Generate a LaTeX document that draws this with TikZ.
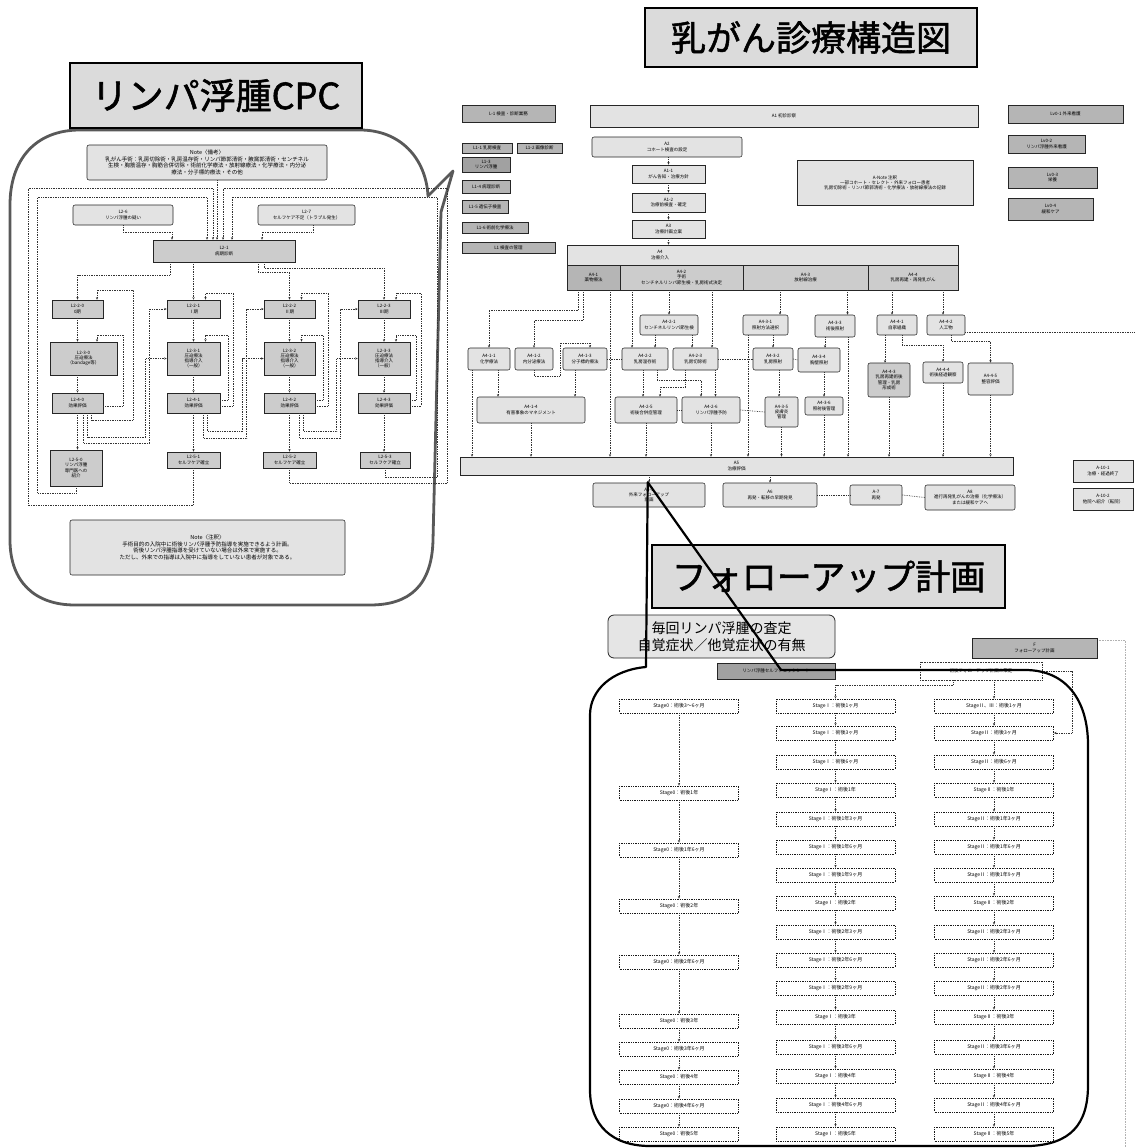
\documentclass[tikz,border=0pt]{standalone}
\usepackage{fontspec}
\setmainfont{Noto Sans CJK JP}
\newfontfamily\ttlfont[RawFeature={embolden=1.5}]{Noto Sans CJK JP}
\usetikzlibrary{arrows.meta,calc}
\newcommand\fsz[2]{\fontsize{#1}{#2}\selectfont}
\newcommand\bxn[7][]{\node[#1,minimum width={#5-#3},minimum height={#6-#4}] (#2) at ({(#3+#5)/2},{(#4+#6)/2}) {#7};}
\tikzset{
 every node/.style={font=\fsz{4.5}{5.2},align=center,inner sep=0.5pt},
 bx/.style={draw=black!85,line width=0.55pt,fill=gray!25},
 lt/.style={bx,fill=gray!22},
 md/.style={bx,fill=gray!40},
 dk/.style={bx,fill=gray!58},
 dkk/.style={bx,fill=gray!74},
 rb/.style={rounded corners=2pt},
 cn/.style={draw=black!80,line width=0.7pt,densely dotted},
 ar/.style={cn,-{Stealth[length=2.6pt,width=2.2pt]}},
 stg/.style={draw=black!90,line width=0.75pt,densely dotted,fill=white,minimum width=119,minimum height=14,font=\fsz{5}{6}},
 ttl/.style={draw=black,line width=1.5pt,fill=gray!28},
 cnote/.style={bx,fill=gray!22,font=\fsz{5.5}{6.5}},
}
\begin{document}
\begin{tikzpicture}[x=1pt,y=-1pt]
\useasboundingbox (0,0) rectangle (1135,1148);
\fill[white] (0,0) rectangle (1135,1148);

% ================= CPC bubble =================
\draw[draw=black!65,line width=2.8pt,line join=round] (80,130) -- (360,130) .. controls (400,130) and (426,158) .. (428,196) -- (453,171) -- (441,212) -- (433,540) .. controls (432,585) and (410,605) .. (370,605) -- (75,605) .. controls (35,605) and (10,582) .. (10,540) -- (10,205) .. controls (10,160) and (35,130) .. (80,130) -- cycle;
\bxn[ttl,font=\ttlfont\fsz{36}{40}]{tcpc}{70}{63}{362}{128}{リンパ浮腫CPC}

\bxn[cnote,rb]{cn1}{87}{145}{327}{180}{Note〈備考〉\\乳がん手術：乳房切除術・乳房温存術・リンパ節郭清術・腋窩郭清術・センチネル\\生検・胸筋温存・胸筋合併切除・術前化学療法・放射線療法・化学療法・内分泌\\療法・分子標的療法・その他}
\bxn[lt,rb]{l26}{73}{205}{173}{225}{L2-6\\リンパ浮腫の疑い}
\bxn[lt,rb]{l27}{258}{205}{355}{225}{L2-7\\セルフケア不足（トラブル発生）}
\bxn[md]{l21}{153}{240}{295}{262}{L2-1\\病期診断}
\bxn[md]{s0}{52}{300}{103}{318}{L2-2-0\\0期}
\bxn[md]{s1}{167}{300}{220}{318}{L2-2-1\\Ⅰ期}
\bxn[md]{s2}{264}{300}{315}{318}{L2-2-2\\Ⅱ期}
\bxn[md]{s3}{358}{300}{410}{318}{L2-2-3\\Ⅲ期}
\bxn[md]{t0}{50}{342}{117}{375}{L2-3-0\\圧迫療法\\（bandage等）}
\bxn[md]{t1}{167}{342}{220}{375}{L2-3-1\\圧迫療法\\指導介入\\（一般）}
\bxn[md]{t2}{264}{342}{315}{375}{L2-3-2\\圧迫療法\\指導介入\\（一般）}
\bxn[md]{t3}{358}{342}{410}{375}{L2-3-3\\圧迫療法\\指導介入\\（一般）}
\bxn[md]{e0}{52}{393}{103}{413}{L2-4-0\\効果評価}
\bxn[md]{e1}{167}{393}{220}{413}{L2-4-1\\効果評価}
\bxn[md]{e2}{264}{393}{315}{413}{L2-4-2\\効果評価}
\bxn[md]{e3}{358}{393}{410}{413}{L2-4-3\\効果評価}
\bxn[md]{r0}{50}{450}{102}{486}{L2-5-0\\リンパ浮腫\\専門医への\\紹介}
\bxn[md]{r1}{167}{452}{220}{468}{L2-5-1\\セルフケア確立}
\bxn[md]{r2}{263}{452}{316}{468}{L2-5-2\\セルフケア確立}
\bxn[md]{r3}{360}{452}{410}{468}{L2-5-3\\セルフケア確立}
\bxn[cnote,rb]{cn2}{70}{520}{345}{575}{Note〈注釈〉\\手術目的の入院中に術後リンパ浮腫予防指導を実施できるよう計画。\\術後リンパ浮腫指導を受けていない場合は外来で実施する。\\ただし、外来での指導は入院中に指導をしていない患者が対象である。}

% CPC connectors
\draw[ar] ($(cn1.south)+(10,0)$) -- ($(l21.north)+(-7,0)$);
\draw[ar] (l26.south) -- ++(0,7) -| ($(l21.north)+(-52,0)$);
\draw[ar] ($(l27.south)+(6.5,0)$) -- ++(0,7) -| ($(l21.north)+(38,0)$);
\draw[ar] ($(l21.south)+(-54,0)$) -- ++(0,13) -| (s0.north);
\draw[ar] (l21.south -| s1.north) -- (s1.north);
\draw[ar] ($(l21.south)+(34,0)$) -- ++(0,10) -| (s2.north);
\draw[ar] ($(l21.south)+(40,0)$) -- ++(0,6) -| (s3.north);
\draw[ar] (s0.south) -- (s0.south |- t0.north);
\draw[ar] (s0.south |- t0.south) -- (e0.north);
\draw[ar] (e0.south) -- (e0.south |- r0.north);
\foreach \c in {1,2,3}{
  \draw[ar] (s\c.south) -- (t\c.north);
  \draw[ar] (t\c.south) -- (e\c.north);
  \draw[ar] (e\c.south) -- (e\c.south |- r\c.north);
}
% column 0 loops
\draw[ar] ($(e0.south)+(14,0)$) -- ++(0,7) -| ++(41.5,-130) -| ($(s0.north)+(19.5,0)$);
\draw[ar] ($(e0.south)+(10,0)$) -- ++(0,24) -| ($(t1.west)+(-21,0)$) -- (t1.west);
\draw[ar] ($(e0.south)+(6,0)$) -- ++(0,30) -| ($(s1.west)+(-17,0)$) -- (s1.west);
\draw[ar] ($(e0.east)+(0,3)$) -| ++(20,-71) -| ($(t0.north)+(13.5,0)$);
% column 1 loops
\draw[ar] ($(e1.east)+(0,3)$) -| ++(13,-113) -| ($(s1.north)+(12,0)$);
\draw[ar] ($(e1.east)+(0,-3)$) -| ++(8,-65) -| ($(t1.north)+(12,0)$);
\draw[ar] ($(e1.south)+(10,0)$) -- ++(0,25) -| ($(s2.west)+(-17,0)$) -- (s2.west);
\draw[ar] ($(e1.south)+(14,0)$) -- ++(0,18) -| ($(t2.west)+(-21,0)$) -- (t2.west);
% column 2 loops
\draw[ar] ($(e2.east)+(0,3)$) -| ++(13,-113) -| ($(s2.north)+(12,0)$);
\draw[ar] ($(e2.east)+(0,-3)$) -| ++(8,-65) -| ($(t2.north)+(12,0)$);
\draw[ar] ($(e2.south)+(10,0)$) -- ++(0,25) -| ($(s3.west)+(-17,0)$) -- (s3.west);
\draw[ar] ($(e2.south)+(14,0)$) -- ++(0,18) -| ($(t3.west)+(-21,0)$) -- (t3.west);
% column 3 loops
\draw[ar] ($(e3.east)+(0,3)$) -| ++(11,-113) -| ($(s3.north)+(12,0)$);
\draw[ar] ($(e3.east)+(0,-3)$) -| ++(6,-65) -| ($(t3.north)+(12,0)$);
% outer loops back to L2-1
\draw[ar] (r0.south) -- ++(0,7) -| ++(-38.5,-296) -| ($(l21.north)+(-17,0)$);
\draw[ar] (r1.south) -- ++(0,37) -| ++(-165.5,-317) -| ($(l21.north)+(-11,0)$);
\draw[ar] (r2.south) -- ++(0,15) -| ++(157.5,-295) -| ($(l21.north)+(-1,0)$);
\draw[ar] (r3.south) -- ++(0,9) -| ++(52,-280) -| ($(l21.north)+(8,0)$);

% ================= main structure =================
\bxn[ttl,font=\ttlfont\fsz{35}{38}]{tmain}{645}{8}{977}{67}{乳がん診療構造図}

\bxn[dk]{lab}{462}{105}{555}{122}{L-1 検査・診断業務}
\bxn[dk]{lb1}{462}{143}{512}{153}{L1-1 乳房検査}
\bxn[dk]{lb2}{517}{143}{562}{153}{L1-2 画像診断}
\bxn[dkk]{lb3}{462}{157}{510}{172}{L1-3\\リンパ浮腫}
\bxn[dk]{lb4}{462}{180}{510}{193}{L1-4 病理診断}
\bxn[dk]{lb5}{462}{200}{508}{213}{L1-5 遺伝子検査}
\bxn[dk]{lb6}{462}{222}{528}{233}{L1-6 術前化学療法}
\bxn[dk]{lb7}{462}{242}{555}{253}{L1 検査の管理}

\bxn[lt]{a1}{590}{105}{978}{127}{A1 初診診察}
\bxn[lt,rb]{a2}{592}{137}{742}{157}{A2\\コホート検査の設定}
\bxn[lt]{a11}{632}{165}{705}{183}{A1-1\\がん告知・治療方針}
\bxn[lt]{a12}{632}{193}{705}{212}{A1-2\\治療前検査・確定}
\bxn[lt]{a3}{632}{220}{705}{238}{A3\\治療計画立案}
\bxn[lt]{a4}{567}{245}{958}{265}{}
\node (a4t) at (660,255) {A4\\治療介入};
\bxn[dk]{a41}{567}{265}{620}{290}{A4-1\\薬物療法}
\bxn[md]{a42}{620}{265}{743}{290}{A4-2\\手術\\センチネルリンパ節生検・乳房術式決定}
\bxn[md]{a43}{743}{265}{868}{290}{A4-3\\放射線治療}
\bxn[md]{a44}{868}{265}{958}{290}{A4-4\\乳房再建・再発乳がん}
\bxn[lt]{anote}{797}{160}{973}{205}{A-Note 注釈\\一部コホート・セレクト・外来フォロー患者\\乳房切除術・リンパ節郭清術・化学療法・放射線療法の記録}

\bxn[dk]{lv1}{1008}{105}{1123}{123}{Lv0-1 外来看護}
\bxn[dk]{lv2}{1008}{135}{1085}{153}{Lv0-2\\リンパ浮腫外来看護}
\bxn[dk]{lv3}{1008}{167}{1097}{188}{Lv0-3\\栄養}
\bxn[dk]{lv4}{1008}{198}{1093}{220}{Lv0-4\\緩和ケア}

\bxn[lt,rb]{a421}{640}{315}{698}{335}{A4-2-1\\センチネルリンパ節生検}
\bxn[lt,rb]{a430}{743}{315}{788}{335}{A4-3-1\\照射方法選択}
\bxn[lt,rb]{u2}{815}{315}{855}{337}{A4-3-3\\術後照射}
\bxn[lt,rb]{u3}{877}{315}{917}{335}{A4-4-1\\自家組織}
\bxn[lt,rb]{u4}{927}{315}{965}{335}{A4-4-2\\人工物}

\bxn[lt,rb]{a411}{468}{348}{510}{370}{A4-1-1\\化学療法}
\bxn[lt,rb]{a412}{515}{348}{553}{370}{A4-1-2\\内分泌療法}
\bxn[lt,rb]{a413}{563}{348}{607}{370}{A4-1-3\\分子標的療法}
\bxn[lt,rb]{a422}{622}{348}{668}{370}{A4-2-2\\乳房温存術}
\bxn[lt,rb]{a423}{673}{348}{718}{370}{A4-2-3\\乳房切除術}
\bxn[lt,rb]{a431}{753}{348}{793}{370}{A4-3-2\\乳房照射}
\bxn[lt,rb]{a432}{798}{348}{840}{372}{A4-3-4\\胸壁照射}

\bxn[lt,rb]{a414}{477}{397}{585}{423}{A4-1-4\\有害事象のマネジメント}
\bxn[lt,rb]{a425}{615}{397}{677}{423}{A4-2-5\\術後合併症管理}
\bxn[lt,rb]{a426}{682}{397}{740}{423}{A4-2-6\\リンパ浮腫予防}
\bxn[lt,rb]{a434}{765}{397}{798}{427}{A4-3-5\\皮膚炎\\管理}
\bxn[lt,rb]{a435}{805}{397}{843}{415}{A4-3-6\\照射後管理}
\bxn[md,rb]{a443}{868}{363}{910}{397}{A4-4-3\\乳房再建術後\\管理・乳房\\形成術}
\bxn[lt,rb]{a444}{923}{362}{963}{383}{A4-4-4\\術後経過観察}
\bxn[lt,rb]{a445}{968}{363}{1013}{395}{A4-4-5\\整容評価}

\bxn[lt]{a5}{460}{457}{1013}{475}{A5\\治療評価}
\bxn[lt,rb]{a51}{593}{483}{705}{507}{A5-1\\外来フォローアップ\\計画}
\bxn[lt,rb]{a6}{723}{483}{817}{507}{A6\\再発・転移の早期発見}
\bxn[lt,rb]{a7}{850}{485}{902}{505}{A-7\\再発}
\bxn[lt,rb]{a8}{925}{485}{1015}{510}{A8\\進行再発乳がんの治療（化学療法）\\または緩和ケアへ}
\bxn[lt]{a101}{1073}{460}{1133}{482}{A-10-1\\治療・経過終了}
\bxn[lt]{a102}{1073}{488}{1133}{510}{A-10-2\\他院へ紹介（転院）}

% main connectors
\draw[ar] (a2.south -| a11.north) -- (a11.north);
\draw[ar] (a11.south) -- (a12.north);
\draw[ar] (a12.south) -- (a3.north);
\draw[ar] (a3.south) -- (a3.south |- a4.north);
\draw[ar] ($(a41.south)+(-15,0)$) -- ++(0,20) -| (a411.north);
\draw[ar] ($(a41.south)+(-10,0)$) -- ++(0,30) -| (a412.north);
\draw[ar] ($(a41.south)+(16.5,0)$) coordinate (q) -- (q |- a5.north);
\draw[ar] (a412.south) -- ++(0,6) -| ++(26,-33) -| ($(a413.north)+(5,0)$);
\draw[ar] ($(a411.south)+(9,0)$) coordinate (q) -- (q |- a414.north);
\draw[ar] ($(a413.south)+(-10,0)$) coordinate (q) -- (q |- a414.north);
\draw[ar] ($(a411.south)+(-17,0)$) coordinate (q) -- (q |- a5.north);
\draw[ar] (a414.south) -- (a414.south |- a5.north);
\draw[ar] ($(a42.south)+(-49.5,0)$) coordinate (q) -- (q |- a422.north);
\draw[ar] (a42.south -| a421.north) -- (a421.north);
\draw[ar] ($(a42.south)+(30.5,0)$) coordinate (q) -- (q |- a423.north);
\draw[ar] ($(a421.south)+(-14,0)$) coordinate (q) -- (q |- a422.north);
\draw[ar] ($(a421.south)+(23,0)$) coordinate (q) -- (q |- a423.north);
\draw[cn] (a413.east) -- (a422.west);
\draw[cn] (a423.east) -- (a431.west);
\draw[cn] (a431.east) -- (a432.west);
\draw[cn] (a425.east) -- (a426.west);
\draw[cn] (a426.east) -- (a434.west);
\draw[ar] ($(a422.south)+(-2,0)$) coordinate (q) -- (q |- a425.north);
\draw[ar] ($(a422.south)+(12,0)$) -- ++(0,10) -| ($(a426.north)+(-10,0)$);
\draw[ar] ($(a423.south)+(20,0)$) coordinate (q) -- (q |- a426.north);
\draw[ar] ($(a423.south)+(-10,0)$) -- ++(0,17) -| ($(a425.north)+(14,0)$);
\draw[ar] (a425.south) -- (a425.south |- a5.north);
\draw[ar] (a426.south) -- (a426.south |- a5.north);
\draw[ar] ($(a43.south)+(-25.5,0)$) coordinate (q) -- (q |- a430.north);
\draw[ar] ($(a43.south)+(42,0)$) coordinate (q) -- (q |- u2.north);
\draw[ar] ($(a44.south)+(-21,0)$) coordinate (q) -- (q |- u3.north);
\draw[ar] ($(a44.south)+(30,0)$) coordinate (q) -- (q |- u4.north);
\draw[ar] ($(a430.south)+(-17.5,0)$) coordinate (q) -- (q |- a5.north);
\draw[ar] ($(a430.south)+(7.5,0)$) coordinate (q) -- (q |- a431.north);
\draw[ar] ($(a431.south)+(6,0)$) coordinate (q) -- (q |- a434.north);
\draw[ar] (a434.south) -- (a434.south |- a5.north);
\draw[ar] ($(u2.south)+(-10,0)$) coordinate (q) -- (q |- a432.north);
\draw[ar] ($(a432.south)+(5,0)$) coordinate (q) -- (q |- a435.north);
\draw[ar] (a435.south) -- (a435.south |- a5.north);
\draw[ar] ($(u2.south)+(13,0)$) coordinate (q) -- (q |- a5.north);
\draw[ar] ($(u3.south)+(-12,0)$) coordinate (q) -- (q |- a443.north);
\draw[ar] ($(u3.south)+(5,0)$) -- ++(0,10) -| (a444.north);
\draw[ar] ($(u4.south)+(5,0)$) -- ++(0,6) -| (a445.north);
\draw[ar] (a443.south) -- (a443.south |- a5.north);
\draw[ar] (a444.south) -- (a444.south |- a5.north);
\draw[ar] (a445.south) -- (a445.south |- a5.north);
\coordinate (rend) at (1135,332);
\draw[cn] ($(u4.east)+(0,7)$) -- (rend);
\draw[ar] (a5.south -| a51.north) -- (a51.north);
\draw[ar] (a5.south -| a6.north) -- (a6.north);
\draw[cn] (a6.east) -- (a7.west);
\draw[cn] (a7.east) -- (a8.west);

% ================= follow-up =================
\draw[densely dotted,gray!60,line width=0.6pt] (1097,640) -- (1125,640) -- (1125,1148);
\bxn[ttl,font=\ttlfont\fsz{35}{38}]{tfu}{652}{545}{1005}{608}{フォローアップ計画}
\bxn[bx,fill=gray!20,rounded corners=6pt,line width=0.8pt,font=\fsz{14}{17}]{fuq}{608}{615}{835}{658}{毎回リンパ浮腫の査定\\自覚症状／他覚症状の有無}
\bxn[dkk]{fud}{717}{663}{835}{679}{リンパ浮腫セルフチェックシート}
\bxn[dk]{fuf}{972}{638}{1097}{658}{F\\フォローアップ計画}
\bxn[draw=black!80,densely dotted,line width=0.6pt,fill=white]{fup}{920}{662}{1042}{680}{術後フォローアップ計画の策定}

\foreach \y/\tx [count=\i] in {706/{Stage0：術後3〜6ヶ月},793/{Stage0：術後1年},850/{Stage0：術後1年6ヶ月},906/{Stage0：術後2年},962/{Stage0：術後2年6ヶ月},1021/{Stage0：術後3年},1049/{Stage0：術後3年6ヶ月},1077/{Stage0：術後4年},1106/{Stage0：術後4年6ヶ月},1134/{Stage0：術後5年}}
  \node[stg] (c1r\i) at (679,\y) {\tx};
\foreach \y/\tx [count=\i] in {706/{StageⅠ：術後1ヶ月},733/{StageⅠ：術後3ヶ月},762/{StageⅠ：術後6ヶ月},790/{StageⅠ：術後1年},819/{StageⅠ：術後1年3ヶ月},847/{StageⅠ：術後1年6ヶ月},875/{StageⅠ：術後1年9ヶ月},903/{StageⅠ：術後2年},932/{StageⅠ：術後2年3ヶ月},960/{StageⅠ：術後2年6ヶ月},988/{StageⅠ：術後2年9ヶ月},1017/{StageⅠ：術後3年},1047/{StageⅠ：術後3年6ヶ月},1076/{StageⅠ：術後4年},1105/{StageⅠ：術後4年6ヶ月},1134/{StageⅠ：術後5年}}
  \node[stg] (c2r\i) at (835.5,\y) {\tx};
\foreach \y/\tx [count=\i] in {706/{StageⅡ、Ⅲ：術後1ヶ月},733/{StageⅡ：術後3ヶ月},762/{StageⅡ：術後6ヶ月},790/{StageⅡ：術後1年},819/{StageⅡ：術後1年3ヶ月},847/{StageⅡ：術後1年6ヶ月},875/{StageⅡ：術後1年9ヶ月},903/{StageⅡ：術後2年},932/{StageⅡ：術後2年3ヶ月},960/{StageⅡ：術後2年6ヶ月},988/{StageⅡ：術後2年9ヶ月},1017/{StageⅡ：術後3年},1047/{StageⅡ：術後3年6ヶ月},1076/{StageⅡ：術後4年},1105/{StageⅡ：術後4年6ヶ月},1134/{StageⅡ：術後5年}}
  \node[stg] (c3r\i) at (994,\y) {\tx};
\foreach \i in {2,...,10}{\pgfmathtruncatemacro\j{\i-1}\draw[ar] (c1r\j.south) -- (c1r\i.north);}
\foreach \i in {2,...,16}{\pgfmathtruncatemacro\j{\i-1}
  \draw[ar] (c2r\j.south) -- (c2r\i.north);
  \draw[ar] (c3r\j.south) -- (c3r\i.north);}
\draw[ar] ($(fup.south)+(-28,0)$) -- ++(0,5) -| (c2r1.north);
\draw[ar] (fup.south -| c3r1.north) -- (c3r1.north);
\draw[ar] (fup.east) -| ($(c3r2.east)+(18,0)$) -- (c3r2.east);

% follow-up callout bubble (tip at A5-1)
\draw[black,line width=2.2pt,line join=round] (a51.south west) ++(55,-25) coordinate (tip)
  (tip) -- (781,670) -- (1025,670) .. controls (1066,670) and (1088,700) .. (1088,745) -- (1088,1085) .. controls (1088,1125) and (1070,1144) .. (1030,1146) -- (650,1146) .. controls (612,1146) and (590,1125) .. (590,1090) -- (590,715) .. controls (590,690) and (612,670) .. (646,667) -- cycle;
\end{tikzpicture}
\end{document}
